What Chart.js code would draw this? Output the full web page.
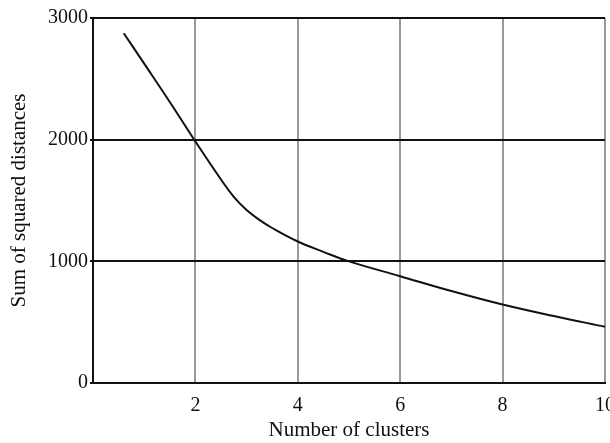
<!DOCTYPE html>
<html>
<head>
<meta charset="utf-8">
<script src="https://cdn.jsdelivr.net/npm/chart.js@4/dist/chart.umd.min.js"></script>
<style>
  html, body { margin: 0; padding: 0; background: #fff; }
  #wrap { width: 610px; height: 443px; }
</style>
</head>
<body>
<div id="wrap"><canvas id="myChart" width="610" height="443"></canvas></div>
<script>
// Elbow curve: number of clusters vs. sum of squared distances
const clusters = [0.6, 1, 1.5, 2, 2.5, 2.75, 3, 3.25, 3.5, 4, 4.5, 5, 6, 7, 8, 9, 10];
const sumSquared = [2875, 2625, 2310, 1985, 1673, 1529, 1421, 1341, 1274, 1163, 1078, 1000, 878, 756, 645, 550, 462];
const xTicks = [2, 4, 6, 8, 10];
const yTicks = [0, 1000, 2000, 3000];

const serif = "'Liberation Serif', 'Times New Roman', serif";

const ctx = document.getElementById('myChart').getContext('2d');
const myChart = new Chart(ctx, {
    type: 'line',
    data: {
        datasets: [{
            data: clusters.map((c, i) => ({ x: c, y: sumSquared[i] })),
            borderColor: '#111',
            borderWidth: 2,
            fill: false,
            tension: 0.4
        }]
    },
    options: {
        responsive: false,
        animation: false,
        layout: {
            padding: { left: 7, right: 5, top: 18, bottom: 0 }
        },
        plugins: {
            legend: { display: false },
            tooltip: { enabled: false }
        },
        elements: {
            point: { radius: 0 }
        },
        scales: {
            x: {
                type: 'linear',
                min: 0,
                max: 10,
                afterBuildTicks: function(scale) {
                    scale.ticks = xTicks.map(v => ({ value: v }));
                },
                afterFit: function(scale) {
                    scale.height = 60;
                    scale.paddingLeft = 0;
                    scale.paddingRight = 0;
                },
                grid: {
                    color: '#999',
                    lineWidth: 2,
                    drawTicks: false
                },
                border: { color: '#111', width: 2 },
                ticks: {
                    color: '#111',
                    padding: 11,
                    font: { family: serif, size: 20 },
                    callback: function(value) {
                        return String(value);
                    }
                },
                title: {
                    display: true,
                    text: 'Number of clusters',
                    color: '#111',
                    padding: { top: 1, bottom: 0 },
                    font: { family: serif, size: 21 }
                }
            },
            y: {
                min: 0,
                max: 3000,
                afterBuildTicks: function(scale) {
                    scale.ticks = yTicks.map(v => ({ value: v }));
                },
                afterFit: function(scale) {
                    scale.width = 86;
                    scale.paddingTop = 0;
                    scale.paddingBottom = 0;
                },
                grid: {
                    color: '#111',
                    lineWidth: 2,
                    tickLength: 3
                },
                border: { color: '#111', width: 2 },
                ticks: {
                    color: '#111',
                    padding: 2,
                    font: { family: serif, size: 20 },
                    callback: function(value) {
                        return String(value);
                    }
                },
                title: {
                    display: true,
                    text: 'Sum of squared distances',
                    color: '#111',
                    padding: { top: 0, bottom: 8 },
                    font: { family: serif, size: 21 }
                }
            }
        }
    }
});
</script>
</body>
</html>
